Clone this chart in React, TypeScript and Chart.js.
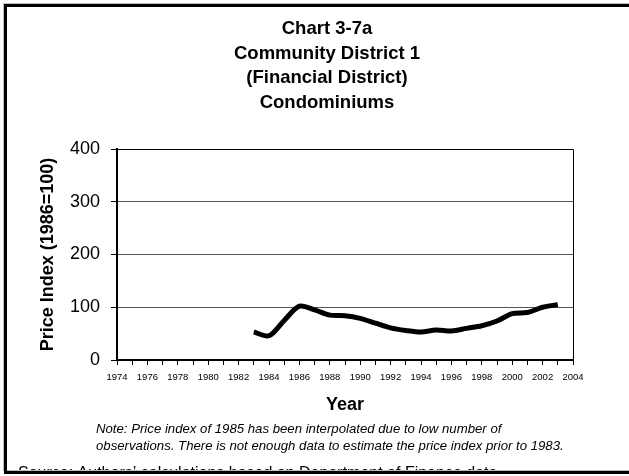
import React, { useEffect, useRef } from "react";
import { Chart, registerables } from "chart.js";

Chart.register(...registerables);

const YEARS = [1983, 1984, 1985, 1986, 1987, 1988, 1989, 1990, 1991, 1992, 1993, 1994, 1995, 1996, 1997, 1998, 1999, 2000, 2001, 2002, 2003];
const PRICE_INDEX = [53, 46, 75, 102, 95, 85, 84, 79, 70, 61, 56, 53, 57, 55, 60, 65, 74, 88, 90, 100, 105];
const X_MIN = 1974;
const X_MAX = 2004;
const Y_TICKS = [0, 100, 200, 300, 400];

const TITLE_LINES = ["Chart 3-7a", "Community District 1", "(Financial District)", "Condominiums"];
const NOTE_LINES = [
  "Note: Price index of 1985 has been interpolated due to low number of",
  "observations. There is not enough data to estimate the price index prior to 1983.",
];
const SOURCE_TEXT = "Source: Authors\u2019 calculations based on Department of Finance data";
const Y_TITLE = "Price Index (1986=100)";
const X_TITLE = "Year";

const FAMILY = '"Liberation Sans", Arial, Helvetica, sans-serif';

const decorPlugin = {
  id: "decor",
  afterDraw(chart: any) {
    const ctx = chart.ctx as CanvasRenderingContext2D;
    const area = chart.chartArea;
    ctx.save();
    // plot border (top & right)
    ctx.strokeStyle = "#000";
    ctx.lineWidth = 1;
    ctx.beginPath();
    ctx.moveTo(area.left, Math.round(area.top) + 0.5);
    ctx.lineTo(Math.round(area.right) + 0.5, Math.round(area.top) + 0.5);
    ctx.lineTo(Math.round(area.right) + 0.5, area.bottom);
    ctx.stroke();

    // title
    ctx.fillStyle = "#000";
    ctx.textAlign = "center";
    ctx.textBaseline = "middle";
    ctx.font = `bold 18.5px ${FAMILY}`;
    TITLE_LINES.forEach((t, i) => ctx.fillText(t, 327, 29 + i * 24.5));

    // note
    ctx.textAlign = "left";
    ctx.textBaseline = "alphabetic";
    ctx.font = `italic 13.2px ${FAMILY}`;
    NOTE_LINES.forEach((t, i) => ctx.fillText(t, 96, 433 + i * 16.5));

    // source
    ctx.font = `16px ${FAMILY}`;
    ctx.fillText(SOURCE_TEXT, 18, 478);

    // frame
    const W = chart.width;
    const H = chart.height;
    ctx.fillStyle = "#bbb";
    ctx.fillRect(3, 3, W - 3, 1);
    ctx.fillRect(3, 3, 1, 468);
    ctx.fillRect(3, 470, W - 3, 1);
    ctx.fillStyle = "#000";
    ctx.fillRect(4, 4, W - 4, 3);
    ctx.fillRect(4, 4, 3, 470);
    ctx.fillRect(4, 471, W - 4, 3);
    ctx.fillStyle = "#fff";
    ctx.fillRect(0, 474, W, H - 474);
    ctx.restore();
  },
};

export default function App() {
  const ref = useRef<HTMLCanvasElement | null>(null);

  useEffect(() => {
    const canvas = ref.current;
    if (!canvas) return;
    const chart = new Chart(canvas, {
      type: "line",
      data: {
        datasets: [
          {
            data: YEARS.map((y, i) => ({ x: y, y: PRICE_INDEX[i] })),
            borderColor: "#000",
            backgroundColor: "#000",
            borderWidth: 5,
            pointRadius: 0,
            tension: 0.3,
            fill: false,
          },
        ],
      },
      options: {
        responsive: false,
        animation: false,
        events: [],
        layout: { padding: { top: 149, right: 56, bottom: 56, left: 0 } },
        plugins: {
          legend: { display: false },
          tooltip: { enabled: false },
          title: { display: false },
        },
        scales: {
          x: {
            type: "linear",
            min: X_MIN,
            max: X_MAX,
            afterBuildTicks: (scale: any) => {
              const ticks = [];
              for (let v = X_MIN; v <= X_MAX; v++) ticks.push({ value: v });
              scale.ticks = ticks;
            },
            afterFit: (scale: any) => {
              scale.height = 60;
            },
            ticks: {
              autoSkip: false,
              maxRotation: 0,
              minRotation: 0,
              padding: 7,
              color: "#000",
              font: { size: 9.5, family: FAMILY },
              callback: (v: any) => (Number(v) % 2 === 0 ? String(v) : ""),
            },
            grid: { drawOnChartArea: false, tickLength: 5, color: "#000", lineWidth: 1 },
            border: { color: "#000", width: 2 },
            title: {
              display: true,
              text: X_TITLE,
              color: "#000",
              font: { size: 18, weight: "bold", family: FAMILY },
              padding: { top: 0, bottom: 4 },
            },
          },
          y: {
            min: 0,
            max: 400,
            afterBuildTicks: (scale: any) => {
              scale.ticks = Y_TICKS.map((v) => ({ value: v }));
            },
            afterFit: (scale: any) => {
              scale.width = 117;
            },
            ticks: {
              padding: 11,
              color: "#000",
              font: { size: 18, family: FAMILY },
            },
            grid: { color: "#555", tickColor: "#000", tickLength: 6, lineWidth: 1 },
            border: { color: "#000", width: 2 },
            title: {
              display: true,
              text: Y_TITLE,
              color: "#000",
              font: { size: 18, weight: "bold", family: FAMILY },
              padding: { top: 37, bottom: 0 },
            },
          },
        },
      } as any,
      plugins: [decorPlugin],
    });
    return () => chart.destroy();
  }, []);

  return (
    <div style={{ position: "fixed", left: 0, top: 0, width: 629, height: 476, background: "#fff" }}>
      <canvas ref={ref} width={629} height={476} style={{ display: "block", width: 629, height: 476 }} />
    </div>
  );
}
